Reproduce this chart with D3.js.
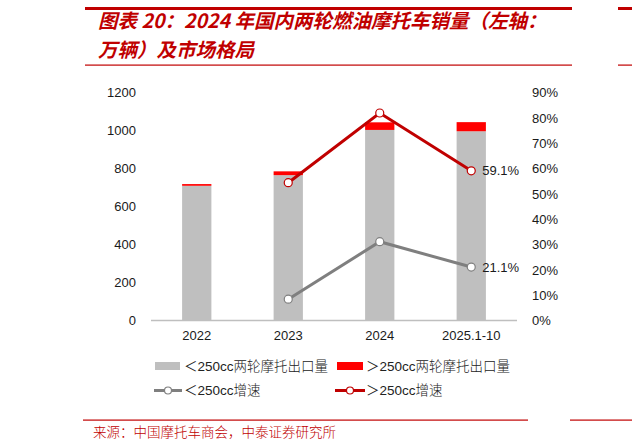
<!DOCTYPE html>
<html>
<head>
<meta charset="utf-8">
<script src="https://cdn.jsdelivr.net/npm/d3@7"></script>
<style>
  body { margin: 0; background: #fff; }
  svg { display: block; }
</style>
</head>
<body>
<svg id="chart" width="632" height="448"></svg>
<script>
// data
const years = ["2022", "2023", "2024", "2025.1-10"];
const smallExport = [709, 765, 1003, 996];     // <250cc 两轮摩托出口量
const largeExport = [9, 20, 40, 48];            // >250cc 两轮摩托出口量
const smallGrowth = [null, 8.4, 31.1, 21.1];    // <250cc 增速 (%)
const largeGrowth = [null, 54.4, 81.9, 59.1];   // >250cc 增速 (%)
const leftTicks = [0, 200, 400, 600, 800, 1000, 1200];
const rightTicks = [0, 10, 20, 30, 40, 50, 60, 70, 80, 90];

const svg = d3.select('#chart');
const red = '#c00000';
const font = '"Liberation Sans", Arial, sans-serif';
const cjk = '"Noto Sans CJK SC", sans-serif';

// header rules + title
svg.append('rect').attr('x', 85).attr('y', 7).attr('width', 487).attr('height', 3).attr('fill', red);
svg.append('rect').attr('x', 85).attr('y', 64.5).attr('width', 487).attr('height', 1.2).attr('fill', red);
svg.append('rect').attr('x', 618).attr('y', 7).attr('width', 14).attr('height', 3).attr('fill', red);
svg.append('rect').attr('x', 618).attr('y', 64.5).attr('width', 14).attr('height', 1.2).attr('fill', red);

const title = svg.append('text')
  .attr('fill', red)
  .style('font-family', cjk)
  .style('font-weight', 'bold')
  .style('font-style', 'italic')
  .style('font-size', '19.5px');
title.append('tspan').attr('x', 98).attr('y', 28).text('图表 20：2024 年国内两轮燃油摩托车销量（左轴：');
title.append('tspan').attr('x', 98).attr('y', 57).text('万辆）及市场格局');

// scales
const x = d3.scaleBand().domain(years).range([151, 517]).paddingInner(0.68).paddingOuter(0.34);
const yL = d3.scaleLinear().domain([0, 1200]).range([320.5, 92.5]);
const yR = d3.scaleLinear().domain([0, 90]).range([320.5, 92.5]);

// axes
const axisL = svg.append('g').attr('transform', 'translate(151,0)')
  .call(d3.axisLeft(yL).tickValues(leftTicks).tickSize(0).tickPadding(15).tickFormat(d3.format('d')));
const axisR = svg.append('g').attr('transform', 'translate(517,0)')
  .call(d3.axisRight(yR).tickValues(rightTicks).tickSize(0).tickPadding(15).tickFormat(d => d + '%'));
const axisX = svg.append('g').attr('transform', 'translate(0,320.5)')
  .call(d3.axisBottom(x).tickSize(0).tickPadding(10));
[axisL, axisR, axisX].forEach(g => {
  g.select('.domain').remove();
  g.selectAll('text').attr('fill', '#1a1a1a').style('font-family', font).style('font-size', '13px');
});

// bars
const bandW = x.bandwidth();
svg.append('g').selectAll('rect')
  .data(years)
  .join('rect')
  .attr('x', d => x(d))
  .attr('width', bandW)
  .attr('y', (d, i) => yL(smallExport[i]))
  .attr('height', (d, i) => yL(0) - yL(smallExport[i]))
  .attr('fill', '#bfbfbf');
svg.append('g').selectAll('rect')
  .data(years)
  .join('rect')
  .attr('x', d => x(d))
  .attr('width', bandW)
  .attr('y', (d, i) => yL(smallExport[i] + largeExport[i]))
  .attr('height', (d, i) => yL(smallExport[i]) - yL(smallExport[i] + largeExport[i]))
  .attr('fill', '#ff0000');

// baseline
svg.append('line').attr('x1', 151).attr('x2', 517).attr('y1', 320.5).attr('y2', 320.5)
  .attr('stroke', '#bfbfbf').attr('stroke-width', 1.5);

// growth lines
const cx = d => x(d) + bandW / 2;
function drawLine(values, color) {
  const pts = years.map((d, i) => ({ year: d, v: values[i] })).filter(p => p.v !== null);
  const line = d3.line().x(p => cx(p.year)).y(p => yR(p.v));
  svg.append('path').datum(pts).attr('d', line)
    .attr('fill', 'none').attr('stroke', color).attr('stroke-width', 3);
  svg.append('g').selectAll('circle').data(pts).join('circle')
    .attr('cx', p => cx(p.year)).attr('cy', p => yR(p.v)).attr('r', 4)
    .attr('fill', '#fff').attr('stroke', color).attr('stroke-width', 1.2);
  const last = pts[pts.length - 1];
  svg.append('text').attr('x', cx(last.year) + 11).attr('y', yR(last.v) + 4.5)
    .attr('fill', '#1a1a1a').style('font-family', font).style('font-size', '13px')
    .text(last.v.toFixed(1) + '%');
}
drawLine(smallGrowth, '#7f7f7f');
drawLine(largeGrowth, red);

// legend
const legend = svg.append('g').style('font-size', '13.5px').attr('fill', '#222');
function legendText(g, xPos, yPos, sym, rest) {
  const t = g.append('text').attr('x', xPos).attr('y', yPos + 4.5);
  t.append('tspan').style('font-family', cjk).text(sym);
  t.append('tspan').style('font-family', font).text('250cc');
  t.append('tspan').style('font-family', cjk).style('font-weight', 300).text(rest);
}
legend.append('rect').attr('x', 155).attr('y', 362).attr('width', 25).attr('height', 8).attr('fill', '#bfbfbf');
legendText(legend, 184, 366, '＜', '两轮摩托出口量');
legend.append('rect').attr('x', 337).attr('y', 362).attr('width', 26).attr('height', 8).attr('fill', '#ff0000');
legendText(legend, 366, 366, '＞', '两轮摩托出口量');

legend.append('line').attr('x1', 154).attr('x2', 182).attr('y1', 390.5).attr('y2', 390.5)
  .attr('stroke', '#7f7f7f').attr('stroke-width', 3);
legend.append('circle').attr('cx', 168).attr('cy', 390.5).attr('r', 3.5)
  .attr('fill', '#fff').attr('stroke', '#7f7f7f').attr('stroke-width', 1.2);
legendText(legend, 184, 390.5, '＜', '增速');
legend.append('line').attr('x1', 335).attr('x2', 365).attr('y1', 390.5).attr('y2', 390.5)
  .attr('stroke', red).attr('stroke-width', 3);
legend.append('circle').attr('cx', 350).attr('cy', 390.5).attr('r', 3.5)
  .attr('fill', '#fff').attr('stroke', red).attr('stroke-width', 1.2);
legendText(legend, 366, 390.5, '＞', '增速');

// footer
svg.append('rect').attr('x', 83).attr('y', 419.5).attr('width', 445).attr('height', 1.2).attr('fill', red);
svg.append('rect').attr('x', 570).attr('y', 419.5).attr('width', 62).attr('height', 1.2).attr('fill', red);
svg.append('text').attr('x', 93).attr('y', 437)
  .attr('fill', red).style('font-family', cjk).style('font-weight', 300).style('font-size', '13.5px')
  .text('来源：中国摩托车商会，中泰证券研究所');
</script>
</body>
</html>
